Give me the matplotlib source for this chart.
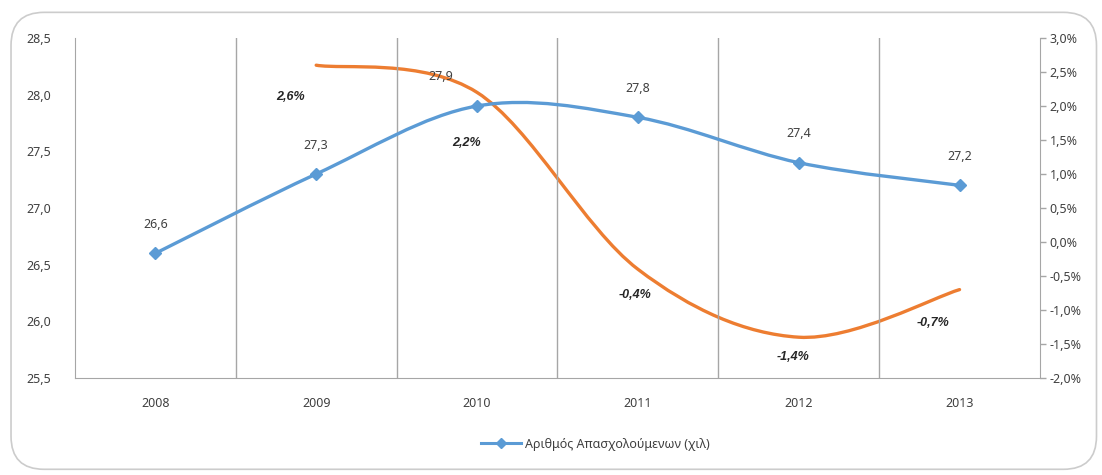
import numpy as np
import matplotlib
matplotlib.use("Agg")
import matplotlib.pyplot as plt
from matplotlib.path import Path
from matplotlib.patches import PathPatch, FancyBboxPatch
from matplotlib.lines import Line2D
from matplotlib.ticker import FuncFormatter

plt.rcParams['font.family'] = ['Noto Sans', 'DejaVu Sans']

# data
years = ['2008', '2009', '2010', '2011', '2012', '2013']
employed = [26.6, 27.3, 27.9, 27.8, 27.4, 27.2]          # χιλ.
change_years = ['2009', '2010', '2011', '2012', '2013']
change_pct = [2.6, 2.2, -0.4, -1.4, -0.7]                 # %
legend_label = 'Αριθμός Απασχολούμενων (χιλ)'

# label offsets in pixels (dx, dy), as placed in the original
emp_offsets = [(0, 29), (0, 29), (-36, 30), (0, 29), (0, 29), (0, 29)]
pct_offsets = [(-26, -32), (-11, -51), (-3, -26), (-6, -20), (-27, -33)]

blue = '#5b9bd5'
orange = '#ed7d31'
txt = '#404040'


def smooth_path(xs, ys):
    # Excel-like smoothed line: Catmull-Rom converted to cubic Bezier
    pts = np.column_stack([np.asarray(xs, float), np.asarray(ys, float)])
    n = len(pts)
    verts = [pts[0]]
    codes = [Path.MOVETO]
    for i in range(n - 1):
        p0 = pts[i - 1] if i > 0 else pts[i]
        p1 = pts[i]
        p2 = pts[i + 1]
        p3 = pts[i + 2] if i + 2 < n else pts[i + 1]
        verts += [p1 + (p2 - p0) / 6.0, p2 - (p3 - p1) / 6.0, p2]
        codes += [Path.CURVE4] * 3
    return Path(verts, codes)


fig = plt.figure(figsize=(11.02, 4.75), dpi=100)
fig.patches.append(FancyBboxPatch((0.010, 0.012), 0.985, 0.962,
                                  boxstyle='round,pad=0,rounding_size=0.03',
                                  transform=fig.transFigure, fill=False,
                                  edgecolor='#cccccc', linewidth=1.2,
                                  mutation_aspect=1102 / 475))

ax = fig.add_axes([0.068, 0.2042, 0.8757, 0.7158])
x = np.arange(len(years))
xc = np.array([years.index(y) for y in change_years])

ax.set_xlim(-0.5, len(years) - 0.5)
ax.set_ylim(25.5, 28.5)
ax.set_yticks(np.arange(25.5, 28.51, 0.5))
ax.yaxis.set_major_formatter(FuncFormatter(lambda v, p: f'{v:.1f}'.replace('.', ',')))
ax.set_xticks(x)
ax.set_xticklabels(years)

# vertical gridlines between categories
for b in np.arange(0.5, len(years) - 0.5, 1):
    ax.axvline(b, color='#a6a6a6', lw=1.0, zorder=0)

for s in ['top', 'right']:
    ax.spines[s].set_visible(False)
ax.spines['left'].set_color('#a6a6a6')
ax.spines['bottom'].set_color('#a6a6a6')
ax.tick_params(axis='y', length=0, pad=17, labelsize=9, colors=txt)
ax.tick_params(axis='x', length=0, pad=14, labelsize=9, colors=txt)

ax2 = ax.twinx()
ax2.set_ylim(-2.0, 3.0)
ax2.set_yticks(np.arange(-2.0, 3.01, 0.5))
ax2.yaxis.set_major_formatter(FuncFormatter(lambda v, p: f'{v:.1f}%'.replace('.', ',')))
for s in ['top', 'left', 'bottom']:
    ax2.spines[s].set_visible(False)
ax2.spines['right'].set_color('#a6a6a6')
ax2.tick_params(axis='y', length=4, width=1, color='#a6a6a6', pad=3, labelsize=9, colors=txt)

# orange: % change (right axis)
ax2.add_patch(PathPatch(smooth_path(xc, change_pct), fill=False, edgecolor=orange,
                        lw=2.4, capstyle='round', zorder=2))
for xi, v, (dx, dy) in zip(xc, change_pct, pct_offsets):
    ax2.annotate(f'{v:.1f}%'.replace('.', ','), (xi, v), xytext=(dx, dy),
                 textcoords='offset pixels', ha='center', va='center',
                 fontsize=9, fontweight='bold', fontstyle='italic', color='#262626',
                 family=['Liberation Sans', 'DejaVu Sans'])

# blue: employed (left axis), drawn on top
ax.set_zorder(ax2.get_zorder() + 1)
ax.patch.set_visible(False)
ax.add_patch(PathPatch(smooth_path(x, employed), fill=False, edgecolor=blue,
                       lw=2.4, capstyle='round', zorder=3))
ax.plot(x, employed, linestyle='none', marker='D', markersize=6, color=blue, zorder=4)
for xi, v, (dx, dy) in zip(x, employed, emp_offsets):
    ax.annotate(f'{v:.1f}'.replace('.', ','), (xi, v), xytext=(dx, dy),
                textcoords='offset pixels', ha='center', va='center',
                fontsize=9, color=txt)

handle = Line2D([], [], color=blue, lw=2.2, marker='D', markersize=5)
fig.legend([handle], [legend_label], loc='center', bbox_to_anchor=(0.54, 0.065),
           frameon=False, fontsize=9, handlelength=3.2, handletextpad=0.3,
           labelcolor=txt)

fig.savefig('out.png', dpi=100)
